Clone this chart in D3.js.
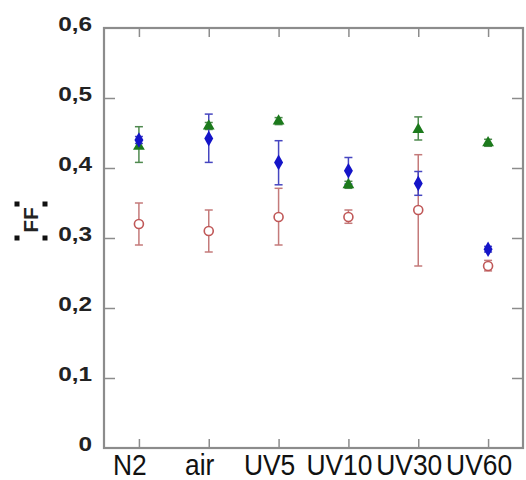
<!DOCTYPE html>
<html><head><meta charset="utf-8">
<script src="https://cdn.jsdelivr.net/npm/d3@7"></script>
<style>body{margin:0;background:#fff}svg{display:block}</style>
</head><body>
<script>
const categories = ["N2","air","UV5","UV10","UV30","UV60"];
const yTicks = [0,0.1,0.2,0.3,0.4,0.5,0.6];
const yTickLabels = ["0","0,1","0,2","0,3","0,4","0,5","0,6"];
const yTitle = "FF";
// green triangles
const greenVal  = [0.431,0.460,0.467,0.376,0.455,0.436];
const greenLow  = [0.408,0.455,0.462,0.371,0.440,0.431];
const greenHigh = [0.459,0.465,0.472,0.381,0.473,0.441];
// blue filled
const blueVal  = [0.440,0.442,0.408,0.396,0.378,0.284];
const blueLow  = [0.435,0.408,0.376,0.377,0.361,0.280];
const blueHigh = [0.445,0.477,0.439,0.415,0.395,0.288];
// red open circles
const redVal  = [0.320,0.310,0.330,0.330,0.340,0.260];
const redLow  = [0.290,0.280,0.290,0.321,0.260,0.253];
const redHigh = [0.350,0.340,0.371,0.340,0.419,0.268];

const W=526,H=480;
const svg=d3.select("body").append("svg").attr("width",W).attr("height",H);
const L=104,R=523,T=28,B=448;
const x=d3.scaleLinear().domain([-0.5,categories.length-0.5]).range([L,R]);
const y=d3.scaleLinear().domain([0,0.6]).range([B,T]);
const frame="#8c8c8c";
const font="Liberation Sans, Arial, sans-serif";

// ticks
const gL=svg.append("g").attr("transform",`translate(${L},0)`)
  .call(d3.axisRight(y).tickValues(yTicks.slice(1,-1)).tickSize(11).tickFormat(""));
const gR=svg.append("g").attr("transform",`translate(${R},0)`)
  .call(d3.axisLeft(y).tickValues(yTicks.slice(1,-1)).tickSize(11).tickFormat(""));
const idx=categories.map((d,i)=>i);
const gB=svg.append("g").attr("transform",`translate(0,${B})`)
  .call(d3.axisTop(x).tickValues(idx).tickSize(9).tickFormat(""));
const gT=svg.append("g").attr("transform",`translate(0,${T})`)
  .call(d3.axisBottom(x).tickValues(idx).tickSize(9).tickFormat(""));
[gL,gR,gB,gT].forEach(g=>{g.select(".domain").remove();g.selectAll("line").attr("stroke",frame).attr("stroke-width",1.5);});
svg.append("rect").attr("x",L).attr("y",T).attr("width",R-L).attr("height",B-T)
  .attr("fill","none").attr("stroke",frame).attr("stroke-width",2.2);

// y labels
svg.append("g").selectAll("text").data(yTicks).join("text")
  .attr("transform",d=>`translate(92,${y(d)+3}) scale(1.25,1)`)
  .attr("text-anchor","end").attr("font-family",font)
  .attr("font-weight","bold").attr("font-size",19.5).attr("fill","#222")
  .text((d,i)=>yTickLabels[i]);
// x labels
svg.append("g").selectAll("text").data(categories).join("text")
  .attr("transform",(d,i)=>`translate(${x(i)-9},475) scale(0.88,1)`)
  .attr("text-anchor","middle").attr("font-family",font)
  .attr("font-size",30).attr("fill","#111")
  .text(d=>d);
// y title with square quote marks
svg.append("text").attr("transform","translate(38,220) rotate(-90)")
  .attr("text-anchor","middle").attr("font-family",font)
  .attr("font-weight","bold").attr("font-size",21).attr("fill","#222")
  .text(yTitle);
[[17,204],[45,204],[17,238],[45,238]].forEach(([cx,cy])=>
  svg.append("rect").attr("x",cx-2.5).attr("y",cy-2.5).attr("width",5).attr("height",5).attr("fill","#111"));

function errBars(vals,low,high,color){
  const g=svg.append("g").attr("stroke",color).attr("stroke-width",1.5).attr("fill","none");
  vals.forEach((v,i)=>{
    const cx=x(i);
    g.append("line").attr("x1",cx).attr("x2",cx).attr("y1",y(low[i])).attr("y2",y(high[i]));
    g.append("line").attr("x1",cx-4).attr("x2",cx+4).attr("y1",y(low[i])).attr("y2",y(low[i]));
    g.append("line").attr("x1",cx-4).attr("x2",cx+4).attr("y1",y(high[i])).attr("y2",y(high[i]));
  });
}
errBars(redVal,redLow,redHigh,"#c47a7a");
errBars(greenVal,greenLow,greenHigh,"#4f8a4f");
errBars(blueVal,blueLow,blueHigh,"#4646c0");

// markers
svg.append("g").selectAll("circle").data(redVal).join("circle")
  .attr("cx",(d,i)=>x(i)).attr("cy",d=>y(d)).attr("r",4.5)
  .attr("fill","#fff").attr("stroke","#c05858").attr("stroke-width",1.6);
svg.append("g").selectAll("path").data(greenVal).join("path")
  .attr("transform",(d,i)=>`translate(${x(i)},${y(d)})`)
  .attr("d",d3.symbol(d3.symbolTriangle,60)).attr("fill","#1c7a1c");
svg.append("g").selectAll("path").data(blueVal).join("path")
  .attr("transform",(d,i)=>`translate(${x(i)},${y(d)})`)
  .attr("d",d3.symbol(d3.symbolDiamond,70)).attr("fill","#1414c8");
</script>
</body></html>
